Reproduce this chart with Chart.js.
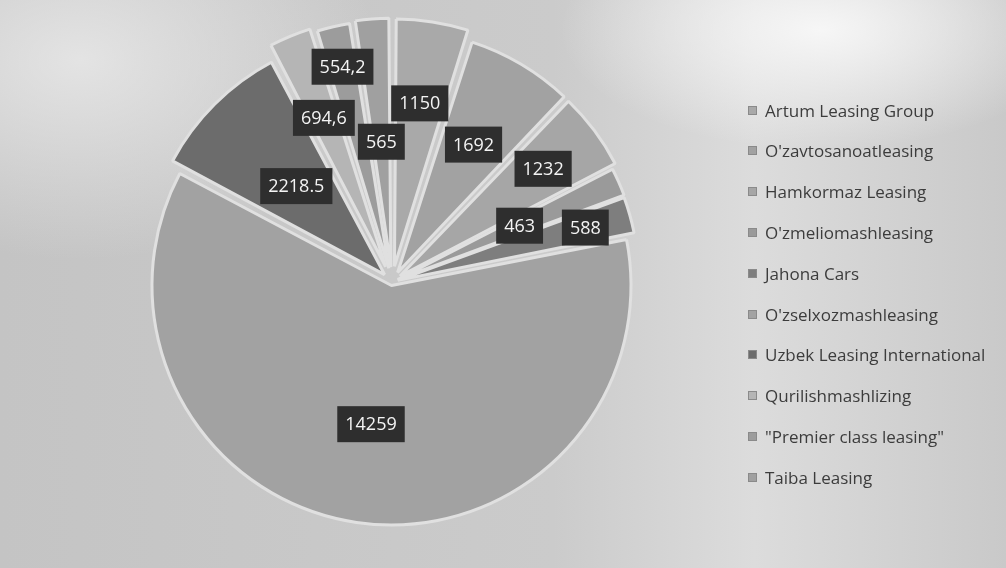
<!DOCTYPE html>
<html>
<head>
<meta charset="utf-8">
<script src="https://cdn.jsdelivr.net/npm/chart.js@4/dist/chart.umd.min.js"></script>
<style>
  html, body { margin: 0; padding: 0; }
  body {
    width: 1006px; height: 568px; overflow: hidden; position: relative;
    background:
      radial-gradient(ellipse 260px 120px at 820px 30px, rgba(248,248,248,0.95), rgba(248,248,248,0) 100%),
      radial-gradient(ellipse 300px 200px at 80px 60px, rgba(235,235,235,0.8), rgba(235,235,235,0) 100%),
      linear-gradient(90deg, #c4c4c4 0%, #cbcbcb 55%, #dcdcdc 75%, #c9c9c9 100%);
  }
  #chart { position: absolute; left: 0; top: 0; }
  #legend {
    position: absolute; left: 748px; top: 0;
    font-family: "Open Sans", "Lato", sans-serif; font-size: 17px; color: #3c3c3c;
  }
  .item { position: absolute; left: 0; white-space: nowrap; display: flex; align-items: center; height: 22px; }
  .sw { width: 9px; height: 9px; margin-right: 8px; border: 1px solid #8a8a8a; box-sizing: border-box; }
</style>
</head>
<body>
<canvas id="chart" width="1006" height="568"></canvas>
<div id="legend"></div>
<script>
// data, clockwise from 12 o'clock
const companies = [
  'Artum Leasing Group',
  "O'zavtosanoatleasing",
  'Hamkormaz Leasing',
  "O'zmeliomashleasing",
  'Jahona Cars',
  "O'zselxozmashleasing",
  'Uzbek Leasing International',
  'Qurilishmashlizing',
  '"Premier class leasing"',
  'Taiba Leasing'
];
const amounts = [1150, 1692, 1232, 463, 588, 14259, 2218.5, 694.6, 554.2, 565];
const amountLabels = ['1150', '1692', '1232', '463', '588', '14259', '2218.5', '694,6', '554,2', '565'];

// styling
const sliceColors = ['#a9a9a9', '#a2a2a2', '#a6a6a6', '#9a9a9a', '#7e7e7e', '#a2a2a2', '#6c6c6c', '#b5b5b5', '#9c9c9c', '#a0a0a0'];
const explode = [64, 44, 40, 25, 24, 14, 42, 66, 56, 60];
const labelRadius = [0.766, 0.677, 0.80, 0.591, 0.851, 0.609, 0.574, 0.753, 0.936, 0.596];

// dark boxes with the values
const boxLabels = {
  id: 'boxLabels',
  afterDatasetsDraw(chart) {
    const ctx = chart.ctx;
    const meta = chart.getDatasetMeta(0);
    ctx.save();
    ctx.font = '18px "Open Sans"';
    ctx.textAlign = 'center';
    ctx.textBaseline = 'middle';
    meta.data.forEach((arc, i) => {
      const p = arc.getProps(['x', 'y', 'startAngle', 'endAngle', 'outerRadius'], true);
      const mid = (p.startAngle + p.endAngle) / 2;
      const r = p.outerRadius * labelRadius[i];
      const cx = p.x + Math.cos(mid) * r;
      const cy = p.y + Math.sin(mid) * r;
      const w = ctx.measureText(amountLabels[i]).width + 16;
      const h = 36;
      ctx.fillStyle = '#2e2e2e';
      ctx.fillRect(cx - w / 2, cy - h / 2, w, h);
      ctx.fillStyle = '#f4f4f4';
      ctx.fillText(amountLabels[i], cx, cy + 1);
    });
    ctx.restore();
  }
};

new Chart(document.getElementById('chart'), {
  type: 'pie',
  data: {
    labels: companies,
    datasets: [{
      data: amounts,
      backgroundColor: sliceColors,
      borderColor: '#e0e0e0',
      borderWidth: 3,
      offset: explode,
      radius: 236,
      clip: false
    }]
  },
  options: {
    responsive: false,
    animation: false,
    devicePixelRatio: 1,
    layout: { padding: { left: 0, top: 0, right: 222, bottom: 4 } },
    plugins: {
      legend: { display: false },
      tooltip: { enabled: false }
    }
  },
  plugins: [boxLabels]
});

// legend on the right
const legend = document.getElementById('legend');
companies.forEach((name, i) => {
  const item = document.createElement('div');
  item.className = 'item';
  item.style.top = (110 + i * 40.8 - 11) + 'px';
  const sw = document.createElement('span');
  sw.className = 'sw';
  sw.style.background = sliceColors[i];
  const txt = document.createElement('span');
  txt.textContent = name;
  item.appendChild(sw);
  item.appendChild(txt);
  legend.appendChild(item);
});
</script>
</body>
</html>
